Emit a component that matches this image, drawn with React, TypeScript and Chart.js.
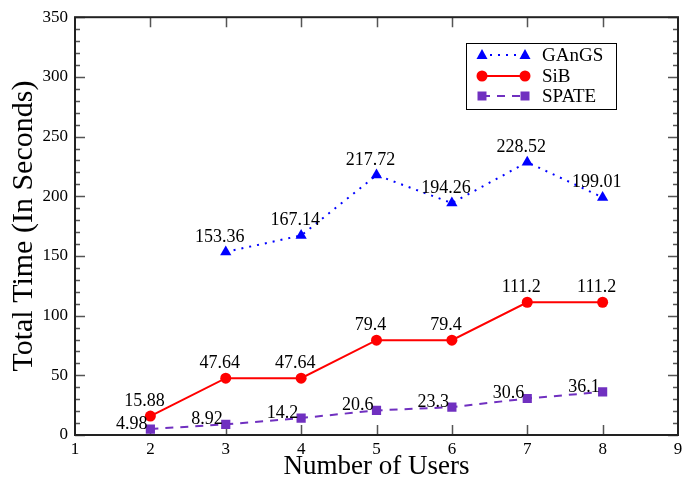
import React, { useEffect, useRef } from "react";
import { Chart, registerables } from "chart.js";

Chart.register(...registerables);

const users = [2, 3, 4, 5, 6, 7, 8];
const gangsTimes = [null, 153.36, 167.14, 217.72, 194.26, 228.52, 199.01];
const sibTimes = [15.88, 47.64, 47.64, 79.4, 79.4, 111.2, 111.2];
const spateTimes = [4.98, 8.92, 14.2, 20.6, 23.3, 30.6, 36.1];
const seriesNames = ["GAnGS", "SiB", "SPATE"];
const xRange = [1, 9];
const yRange = [0, 350];
const yMajorStep = 50;
const yMinorStep = 10;

const SERIF = "'Liberation Serif', 'DejaVu Serif', serif";
const BLUE = "#0000ff";
const RED = "#ff0000";
const PURPLE = "#7030c0";

const toPoints = (vals: (number | null)[]) =>
  users.map((u, i) => ({ x: u, y: vals[i] }));

function drawMarker(ctx: CanvasRenderingContext2D, style: string, x: number, y: number, color: string) {
  ctx.save();
  ctx.fillStyle = color;
  ctx.beginPath();
  if (style === "triangle") {
    ctx.moveTo(x, y - 6);
    ctx.lineTo(x + 5.5, y + 4);
    ctx.lineTo(x - 5.5, y + 4);
    ctx.closePath();
  } else if (style === "circle") {
    ctx.arc(x, y, 5.5, 0, Math.PI * 2);
  } else {
    ctx.rect(x - 4.5, y - 4.5, 9, 9);
  }
  ctx.fill();
  ctx.restore();
}

const framePlugin = {
  id: "frameTicks",
  beforeDatasetsDraw(chart: any) {
    const { ctx, chartArea: a, scales } = chart;
    const xs = scales.x;
    const ys = scales.y;
    ctx.save();
    ctx.strokeStyle = "#555";
    ctx.lineWidth = 1.5;
    ctx.beginPath();
    xs.ticks.forEach((t: any) => {
      if (t.value <= xs.min || t.value >= xs.max) return;
      const px = Math.round(xs.getPixelForValue(t.value)) + 0.5;
      ctx.moveTo(px, a.bottom);
      ctx.lineTo(px, a.bottom - 10);
      ctx.moveTo(px, a.top);
      ctx.lineTo(px, a.top + 10);
    });
    for (let v = ys.min; v <= ys.max + 1e-9; v += yMinorStep) {
      const major = Math.abs(v / yMajorStep - Math.round(v / yMajorStep)) < 1e-9;
      const len = major ? 10 : 5;
      const py = Math.round(ys.getPixelForValue(v)) + 0.5;
      ctx.moveTo(a.left, py);
      ctx.lineTo(a.left + len, py);
      ctx.moveTo(a.right, py);
      ctx.lineTo(a.right - len, py);
    }
    ctx.stroke();
    ctx.strokeStyle = "#222";
    ctx.lineWidth = 2;
    ctx.strokeRect(a.left, a.top, a.right - a.left, a.bottom - a.top);
    ctx.restore();
  },
  afterDatasetsDraw(chart: any) {
    const { ctx } = chart;
    ctx.save();
    ctx.font = `18px ${SERIF}`;
    ctx.fillStyle = "#000";
    ctx.textBaseline = "alphabetic";
    chart.data.datasets.forEach((ds: any, di: number) => {
      const meta = chart.getDatasetMeta(di);
      meta.data.forEach((el: any, i: number) => {
        const v = ds.data[i].y;
        if (v === null || v === undefined) return;
        const label = String(v);
        if (di === 2) {
          ctx.textAlign = "right";
          ctx.fillText(label, el.x - 3, el.y);
        } else {
          ctx.textAlign = "center";
          ctx.fillText(label, el.x - 6, el.y - 10);
        }
      });
    });
    // legend
    const lx = 466, ly = 43, lw = 150, lh = 66;
    ctx.fillStyle = "#fff";
    ctx.fillRect(lx, ly, lw, lh);
    ctx.strokeStyle = "#000";
    ctx.lineWidth = 1;
    ctx.strokeRect(lx + 0.5, ly + 0.5, lw, lh);
    const rows = [55, 76, 96];
    chart.data.datasets.forEach((ds: any, di: number) => {
      const y = rows[di];
      ctx.save();
      ctx.strokeStyle = ds.borderColor;
      ctx.lineWidth = ds.borderWidth;
      ctx.setLineDash(ds.borderDash || []);
      ctx.beginPath();
      ctx.moveTo(482, y);
      ctx.lineTo(525, y);
      ctx.stroke();
      ctx.restore();
      drawMarker(ctx, ds.pointStyle, 482, y, ds.borderColor);
      drawMarker(ctx, ds.pointStyle, 525, y, ds.borderColor);
      ctx.font = `19px ${SERIF}`;
      ctx.fillStyle = "#000";
      ctx.textAlign = "left";
      ctx.textBaseline = "middle";
      ctx.fillText(ds.label, 542, y + 1);
    });
    ctx.restore();
  },
};

export default function App() {
  const ref = useRef<HTMLCanvasElement | null>(null);
  useEffect(() => {
    document.body.style.margin = "0";
    const canvas = ref.current!;
    const chart = new Chart(canvas, {
      type: "line",
      data: {
        datasets: [
          {
            label: seriesNames[0],
            data: toPoints(gangsTimes),
            borderColor: BLUE,
            backgroundColor: BLUE,
            borderWidth: 2,
            borderDash: [2, 6],
            pointStyle: "triangle",
            pointRadius: 6.5,
            pointBorderWidth: 0,
            fill: false,
          },
          {
            label: seriesNames[1],
            data: toPoints(sibTimes),
            borderColor: RED,
            backgroundColor: RED,
            borderWidth: 2,
            pointStyle: "circle",
            pointRadius: 5.5,
            pointBorderWidth: 0,
            fill: false,
          },
          {
            label: seriesNames[2],
            data: toPoints(spateTimes),
            borderColor: PURPLE,
            backgroundColor: PURPLE,
            borderWidth: 2,
            borderDash: [8, 7],
            pointStyle: "rect",
            pointRadius: 6.5,
            pointBorderWidth: 0,
            fill: false,
          },
        ],
      },
      options: {
        responsive: false,
        animation: false,
        layout: { padding: { top: 15, right: 10, left: 0, bottom: 0 } },
        plugins: { legend: { display: false }, tooltip: { enabled: false } },
        elements: { line: { tension: 0 } },
        scales: {
          x: {
            type: "linear",
            min: xRange[0],
            max: xRange[1],
            grid: { display: false, drawTicks: false },
            border: { display: false },
            ticks: {
              stepSize: 1,
              padding: 4,
              color: "#000",
              font: { family: SERIF, size: 17 },
            },
            title: {
              display: true,
              text: "Number of Users",
              color: "#000",
              font: { family: SERIF, size: 27 },
              padding: { top: 0, bottom: 0 },
            },
            afterFit: (s: any) => {
              s.height = 48;
            },
          },
          y: {
            type: "linear",
            min: yRange[0],
            max: yRange[1],
            grid: { display: false, drawTicks: false },
            border: { display: false },
            ticks: {
              stepSize: yMajorStep,
              padding: 7,
              color: "#000",
              font: { family: SERIF, size: 17 },
            },
            title: {
              display: true,
              text: "Total Time (In Seconds)",
              color: "#000",
              font: { family: SERIF, size: 30 },
              padding: { top: 6, bottom: 0 },
            },
            afterFit: (s: any) => {
              s.width = 75;
            },
          },
        },
      },
      plugins: [framePlugin],
    });
    return () => chart.destroy();
  }, []);
  return <canvas ref={ref} width={688} height={483} style={{ display: "block", width: 688, height: 483 }} />;
}
